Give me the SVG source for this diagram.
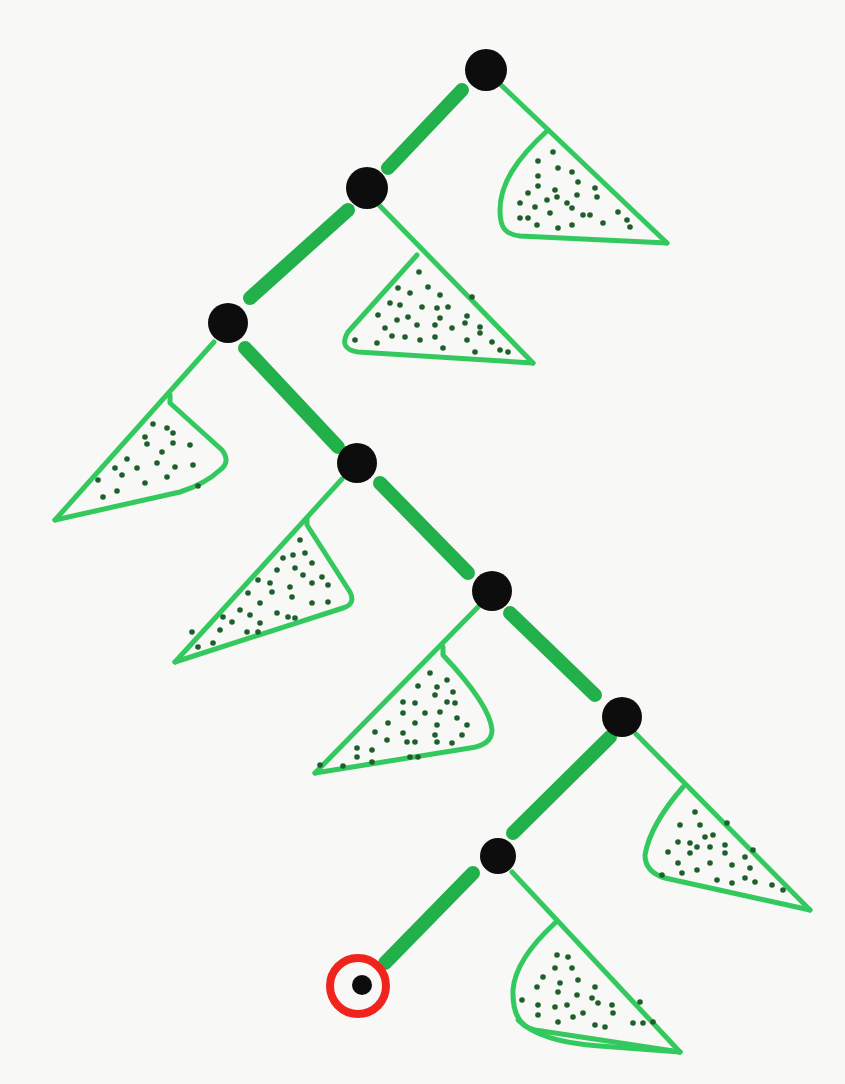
<svg xmlns="http://www.w3.org/2000/svg" width="845" height="1084" viewBox="0 0 845 1084">
<defs>
<style>
.bar{stroke:#22b04a;stroke-width:14;stroke-linecap:round;fill:none}
.thin{stroke:#33c95e;stroke-width:5;stroke-linecap:round;stroke-linejoin:round;fill:none}
.node{fill:#0d0d0d}
.d circle{fill:#1f5f2c;r:2.8px}
</style>
</defs>
<rect width="845" height="1084" fill="#f8f8f6"/>
<g id="connectors">
<line class="bar" x1="462" y1="90" x2="388" y2="168"/>
<line class="bar" x1="348" y1="210" x2="250" y2="298"/>
<line class="bar" x1="245" y1="348" x2="338" y2="447"/>
<line class="bar" x1="380" y1="483" x2="468" y2="573"/>
<line class="bar" x1="510" y1="613" x2="595" y2="695"/>
<line class="bar" x1="610" y1="737" x2="513" y2="833"/>
<line class="bar" x1="473" y1="873" x2="385" y2="963"/>
</g>
<g id="subtree1">
<path class="thin" d="M500,84 L667,243"/>
<path class="thin" d="M548,130 C515,160 500,185 500,210 C500,228 505,234 520,236 L667,243"/>
<g class="d"><circle cx="553" cy="152" r="2.8"/><circle cx="538" cy="161" r="2.8"/><circle cx="558" cy="168" r="2.8"/><circle cx="572" cy="172" r="2.8"/><circle cx="538" cy="176" r="2.8"/><circle cx="578" cy="182" r="2.8"/><circle cx="555" cy="190" r="2.8"/><circle cx="595" cy="188" r="2.8"/><circle cx="538" cy="186" r="2.8"/><circle cx="528" cy="193" r="2.8"/><circle cx="547" cy="200" r="2.8"/><circle cx="577" cy="195" r="2.8"/><circle cx="597" cy="197" r="2.8"/><circle cx="520" cy="203" r="2.8"/><circle cx="535" cy="207" r="2.8"/><circle cx="567" cy="203" r="2.8"/><circle cx="572" cy="208" r="2.8"/><circle cx="550" cy="213" r="2.8"/><circle cx="583" cy="215" r="2.8"/><circle cx="590" cy="215" r="2.8"/><circle cx="603" cy="223" r="2.8"/><circle cx="618" cy="212" r="2.8"/><circle cx="627" cy="220" r="2.8"/><circle cx="630" cy="227" r="2.8"/><circle cx="520" cy="218" r="2.8"/><circle cx="528" cy="218" r="2.8"/><circle cx="537" cy="225" r="2.8"/><circle cx="558" cy="228" r="2.8"/><circle cx="572" cy="225" r="2.8"/><circle cx="557" cy="197" r="2.8"/></g>
</g>
<g id="subtree2">
<path class="thin" d="M378,204 L533,363"/>
<path class="thin" d="M417,255 L348,332 Q338,349 358,352 L533,363"/>
<g class="d"><circle cx="419" cy="272" r="2.8"/><circle cx="398" cy="288" r="2.8"/><circle cx="410" cy="293" r="2.8"/><circle cx="428" cy="287" r="2.8"/><circle cx="440" cy="295" r="2.8"/><circle cx="390" cy="303" r="2.8"/><circle cx="400" cy="305" r="2.8"/><circle cx="422" cy="307" r="2.8"/><circle cx="437" cy="308" r="2.8"/><circle cx="448" cy="307" r="2.8"/><circle cx="378" cy="315" r="2.8"/><circle cx="397" cy="320" r="2.8"/><circle cx="408" cy="317" r="2.8"/><circle cx="417" cy="325" r="2.8"/><circle cx="435" cy="325" r="2.8"/><circle cx="440" cy="318" r="2.8"/><circle cx="452" cy="328" r="2.8"/><circle cx="467" cy="316" r="2.8"/><circle cx="465" cy="323" r="2.8"/><circle cx="385" cy="328" r="2.8"/><circle cx="392" cy="336" r="2.8"/><circle cx="405" cy="337" r="2.8"/><circle cx="420" cy="340" r="2.8"/><circle cx="435" cy="337" r="2.8"/><circle cx="480" cy="327" r="2.8"/><circle cx="480" cy="333" r="2.8"/><circle cx="467" cy="340" r="2.8"/><circle cx="377" cy="343" r="2.8"/><circle cx="355" cy="340" r="2.8"/><circle cx="443" cy="348" r="2.8"/><circle cx="475" cy="352" r="2.8"/><circle cx="492" cy="342" r="2.8"/><circle cx="500" cy="350" r="2.8"/><circle cx="508" cy="352" r="2.8"/><circle cx="472" cy="297" r="2.8"/></g>
</g>
<g id="subtree3">
<path class="thin" d="M214,342 L55,520"/>
<path class="thin" d="M170,395 L170,403 L222,450 Q231,462 220,470 Q205,484 180,492 L55,520"/>
<g class="d"><circle cx="153" cy="424" r="2.8"/><circle cx="167" cy="428" r="2.8"/><circle cx="173" cy="433" r="2.8"/><circle cx="145" cy="437" r="2.8"/><circle cx="147" cy="444" r="2.8"/><circle cx="173" cy="443" r="2.8"/><circle cx="190" cy="445" r="2.8"/><circle cx="162" cy="452" r="2.8"/><circle cx="127" cy="459" r="2.8"/><circle cx="157" cy="463" r="2.8"/><circle cx="175" cy="467" r="2.8"/><circle cx="193" cy="465" r="2.8"/><circle cx="115" cy="468" r="2.8"/><circle cx="137" cy="468" r="2.8"/><circle cx="122" cy="475" r="2.8"/><circle cx="167" cy="477" r="2.8"/><circle cx="98" cy="480" r="2.8"/><circle cx="145" cy="483" r="2.8"/><circle cx="117" cy="491" r="2.8"/><circle cx="103" cy="497" r="2.8"/><circle cx="198" cy="486" r="2.8"/></g>
</g>
<g id="subtree4">
<path class="thin" d="M342,479 L175,662"/>
<path class="thin" d="M307,518 L307,525 L350,592 Q356,604 343,608 L175,662"/>
<g class="d"><circle cx="300" cy="540" r="2.8"/><circle cx="283" cy="558" r="2.8"/><circle cx="293" cy="555" r="2.8"/><circle cx="305" cy="553" r="2.8"/><circle cx="295" cy="568" r="2.8"/><circle cx="312" cy="563" r="2.8"/><circle cx="277" cy="570" r="2.8"/><circle cx="303" cy="575" r="2.8"/><circle cx="322" cy="577" r="2.8"/><circle cx="258" cy="580" r="2.8"/><circle cx="270" cy="583" r="2.8"/><circle cx="290" cy="587" r="2.8"/><circle cx="312" cy="583" r="2.8"/><circle cx="328" cy="585" r="2.8"/><circle cx="248" cy="593" r="2.8"/><circle cx="272" cy="592" r="2.8"/><circle cx="292" cy="597" r="2.8"/><circle cx="260" cy="603" r="2.8"/><circle cx="312" cy="603" r="2.8"/><circle cx="328" cy="602" r="2.8"/><circle cx="240" cy="610" r="2.8"/><circle cx="250" cy="615" r="2.8"/><circle cx="277" cy="613" r="2.8"/><circle cx="288" cy="617" r="2.8"/><circle cx="295" cy="618" r="2.8"/><circle cx="223" cy="617" r="2.8"/><circle cx="232" cy="622" r="2.8"/><circle cx="260" cy="623" r="2.8"/><circle cx="220" cy="630" r="2.8"/><circle cx="247" cy="632" r="2.8"/><circle cx="258" cy="632" r="2.8"/><circle cx="192" cy="632" r="3.2"/><circle cx="213" cy="643" r="2.8"/><circle cx="198" cy="647" r="2.8"/></g>
</g>
<g id="subtree5">
<path class="thin" d="M478,607 L315,773"/>
<path class="thin" d="M443,647 L443,655 Q490,705 492,730 Q492,745 470,748 L315,773"/>
<g class="d"><circle cx="430" cy="673" r="2.8"/><circle cx="447" cy="680" r="2.8"/><circle cx="418" cy="686" r="2.8"/><circle cx="437" cy="687" r="2.8"/><circle cx="453" cy="692" r="2.8"/><circle cx="435" cy="695" r="2.8"/><circle cx="447" cy="702" r="2.8"/><circle cx="455" cy="703" r="2.8"/><circle cx="403" cy="702" r="2.8"/><circle cx="415" cy="703" r="2.8"/><circle cx="425" cy="713" r="2.8"/><circle cx="440" cy="712" r="2.8"/><circle cx="403" cy="713" r="2.8"/><circle cx="457" cy="718" r="2.8"/><circle cx="388" cy="723" r="2.8"/><circle cx="415" cy="723" r="2.8"/><circle cx="437" cy="725" r="2.8"/><circle cx="467" cy="725" r="2.8"/><circle cx="375" cy="732" r="2.8"/><circle cx="403" cy="733" r="2.8"/><circle cx="435" cy="735" r="2.8"/><circle cx="462" cy="735" r="2.8"/><circle cx="387" cy="740" r="2.8"/><circle cx="407" cy="742" r="2.8"/><circle cx="415" cy="742" r="2.8"/><circle cx="437" cy="742" r="2.8"/><circle cx="452" cy="743" r="2.8"/><circle cx="357" cy="748" r="2.8"/><circle cx="372" cy="750" r="2.8"/><circle cx="357" cy="757" r="2.8"/><circle cx="410" cy="757" r="2.8"/><circle cx="418" cy="757" r="2.8"/><circle cx="372" cy="762" r="2.8"/><circle cx="343" cy="766" r="2.8"/><circle cx="320" cy="765" r="3.2"/></g>
</g>
<g id="subtree6">
<path class="thin" d="M636,734 L810,910"/>
<path class="thin" d="M683,787 Q650,825 645,855 Q645,872 665,878 L810,910"/>
<g class="d"><circle cx="695" cy="812" r="2.8"/><circle cx="680" cy="825" r="2.8"/><circle cx="700" cy="825" r="2.8"/><circle cx="678" cy="842" r="2.8"/><circle cx="690" cy="843" r="2.8"/><circle cx="705" cy="837" r="2.8"/><circle cx="713" cy="835" r="2.8"/><circle cx="697" cy="847" r="2.8"/><circle cx="710" cy="847" r="2.8"/><circle cx="725" cy="845" r="2.8"/><circle cx="668" cy="852" r="2.8"/><circle cx="690" cy="853" r="2.8"/><circle cx="725" cy="853" r="2.8"/><circle cx="745" cy="857" r="2.8"/><circle cx="678" cy="863" r="2.8"/><circle cx="697" cy="870" r="2.8"/><circle cx="710" cy="863" r="2.8"/><circle cx="732" cy="865" r="2.8"/><circle cx="750" cy="868" r="2.8"/><circle cx="682" cy="873" r="2.8"/><circle cx="717" cy="880" r="2.8"/><circle cx="732" cy="883" r="2.8"/><circle cx="745" cy="878" r="2.8"/><circle cx="755" cy="882" r="2.8"/><circle cx="772" cy="885" r="2.8"/><circle cx="783" cy="890" r="2.8"/><circle cx="662" cy="875" r="2.8"/><circle cx="727" cy="823" r="2.8"/><circle cx="753" cy="850" r="2.8"/></g>
</g>
<g id="subtree7">
<path class="thin" d="M512,872 L680,1052"/>
<path class="thin" d="M555,923 Q515,960 513,990 Q512,1025 535,1030 L680,1052"/>
<path class="thin" d="M518,1020 Q540,1042 600,1046 L680,1052"/>
<g class="d"><circle cx="557" cy="955" r="2.8"/><circle cx="568" cy="957" r="2.8"/><circle cx="555" cy="968" r="2.8"/><circle cx="572" cy="968" r="2.8"/><circle cx="543" cy="977" r="2.8"/><circle cx="560" cy="983" r="2.8"/><circle cx="578" cy="980" r="2.8"/><circle cx="595" cy="987" r="2.8"/><circle cx="537" cy="987" r="2.8"/><circle cx="558" cy="992" r="2.8"/><circle cx="577" cy="995" r="2.8"/><circle cx="592" cy="998" r="2.8"/><circle cx="522" cy="1000" r="2.8"/><circle cx="538" cy="1005" r="2.8"/><circle cx="555" cy="1007" r="2.8"/><circle cx="567" cy="1005" r="2.8"/><circle cx="598" cy="1003" r="2.8"/><circle cx="612" cy="1005" r="2.8"/><circle cx="613" cy="1013" r="2.8"/><circle cx="583" cy="1013" r="2.8"/><circle cx="573" cy="1017" r="2.8"/><circle cx="538" cy="1015" r="2.8"/><circle cx="558" cy="1022" r="2.8"/><circle cx="595" cy="1025" r="2.8"/><circle cx="605" cy="1027" r="2.8"/><circle cx="633" cy="1023" r="2.8"/><circle cx="643" cy="1023" r="2.8"/><circle cx="653" cy="1022" r="2.8"/><circle cx="640" cy="1002" r="2.8"/></g>
</g>
<g id="n1"><circle class="node" cx="486" cy="70" r="21"/></g>
<g id="n2"><circle class="node" cx="367" cy="188" r="21"/></g>
<g id="n3"><circle class="node" cx="228" cy="323" r="20"/></g>
<g id="n4"><circle class="node" cx="357" cy="463" r="20"/></g>
<g id="n5"><circle class="node" cx="492" cy="591" r="20"/></g>
<g id="n6"><circle class="node" cx="622" cy="717" r="20"/></g>
<g id="n7"><circle class="node" cx="498" cy="856" r="18"/></g>
<g id="n8">
<circle cx="358" cy="986" r="28" fill="none" stroke="#f0231d" stroke-width="8"/>
<circle class="node" cx="362" cy="985" r="10"/>
</g>
</svg>
